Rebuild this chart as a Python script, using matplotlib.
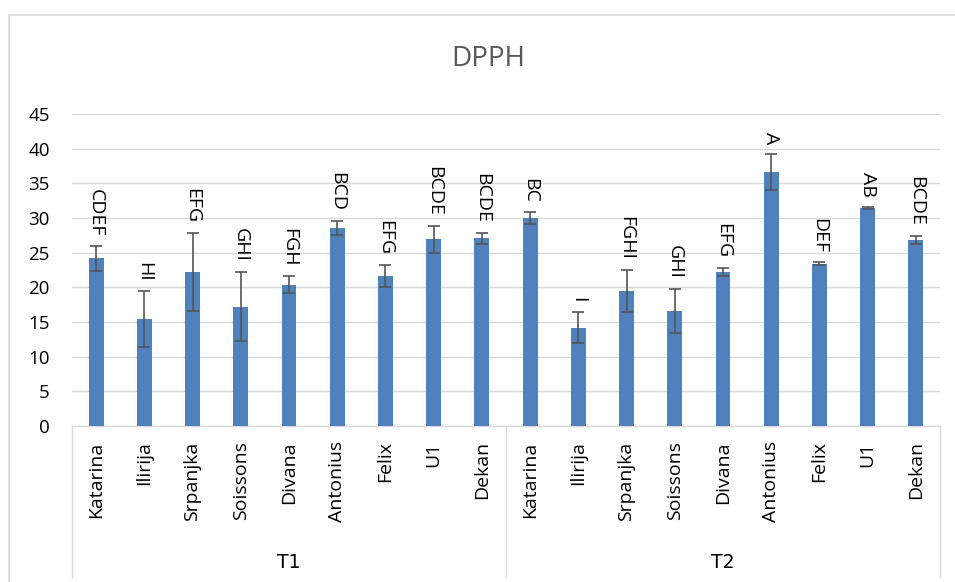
import matplotlib
matplotlib.use("Agg")
import matplotlib.pyplot as plt
from matplotlib.lines import Line2D
from matplotlib.patches import Rectangle

plt.rcParams['font.family'] = ['Open Sans', 'DejaVu Sans']

# ---- data ----
cultivars = ["Katarina", "Ilirija", "Srpanjka", "Soissons", "Divana",
             "Antonius", "Felix", "U1", "Dekan"]
groups = ["T1", "T2"]
t1_values = [24.2, 15.4, 22.2, 17.2, 20.4, 28.6, 21.6, 26.9, 27.1]
t1_errors = [1.8, 4.0, 5.6, 5.0, 1.2, 1.0, 1.6, 2.0, 0.8]
t2_values = [30.0, 14.2, 19.5, 16.6, 22.2, 36.6, 23.4, 31.5, 26.8]
t2_errors = [0.8, 2.2, 3.0, 3.2, 0.6, 2.6, 0.2, 0.15, 0.6]
t1_letters = ["CDEF", "HI", "EFG", "GHI", "FGH", "BCD", "EFG", "BCDE", "BCDE"]
t2_letters = ["BC", "I", "FGHI", "GHI", "EFG", "A", "DEF", "AB", "BCDE"]
title = "DPPH"
y_ticks = [0, 5, 10, 15, 20, 25, 30, 35, 40, 45]

values = t1_values + t2_values
errors = t1_errors + t2_errors
letters = t1_letters + t2_letters
labels = cultivars + cultivars
x = list(range(len(values)))

W, H = 955, 582
fig = plt.figure(figsize=(W / 100, H / 100), dpi=100)
fig.patch.set_facecolor("white")

left, right, top, bottom = 72, 940, 114, 426
ax = fig.add_axes([left / W, 1 - bottom / H, (right - left) / W, (bottom - top) / H])

ax.bar(x, values, width=0.31, color="#4F81BD", zorder=3)
ax.errorbar(x, values, yerr=errors, fmt="none", ecolor="#555555",
            elinewidth=1.2, capsize=4, capthick=1.2, zorder=4)

for xi, v, e, lab in zip(x, values, errors, letters):
    ax.annotate(lab, xy=(xi, v + e), xytext=(0, 7), textcoords="offset points",
                rotation=270, ha="center", va="bottom", fontsize=14,
                color="#000000", zorder=5)

ax.set_xlim(-0.5, len(values) - 0.5)
ax.set_ylim(0, 45)
ax.set_yticks(y_ticks)
ax.set_yticklabels([str(t) for t in y_ticks], fontsize=13.5, color="#000000")
ax.tick_params(axis="y", length=0, pad=16)
ax.set_xticks(x)
ax.set_xticklabels(labels, rotation=90, fontsize=14, va="top", ha="center")
ax.tick_params(axis="x", length=0, pad=11)

ax.yaxis.grid(True, color="#D9D9D9", linewidth=1.0, zorder=0)
ax.set_axisbelow(True)
for s in ["top", "right", "left"]:
    ax.spines[s].set_visible(False)
ax.spines["bottom"].set_color("#D9D9D9")
ax.spines["bottom"].set_linewidth(1.0)

# multi-level category axis lines
sep = (left + right) / 2
for xp in [left, sep, right]:
    fig.add_artist(Line2D([xp / W, xp / W], [1 - bottom / H, 1 - 577 / H],
                          color="#D9D9D9", linewidth=1.0))

# group labels
n = len(cultivars)
for gi, g in enumerate(groups):
    cx = ax.transData.transform((gi * n + (n - 1) / 2, 0))[0]
    fig.text(cx / W, 1 - 563 / H, g, ha="center", va="center", fontsize=13.5,
             family=["Liberation Sans Narrow", "DejaVu Sans"], color="#000000")

# title
fig.text(488 / W, 1 - 59 / H, title, ha="center", va="center", fontsize=20,
         color="#595959")

# chart border
fig.add_artist(Rectangle((9 / W, -0.05), 1.1, 1 - 15 / H + 0.05, fill=False,
                         edgecolor="#D9D9D9", linewidth=1.2,
                         transform=fig.transFigure))

fig.savefig("out.png", dpi=100)
